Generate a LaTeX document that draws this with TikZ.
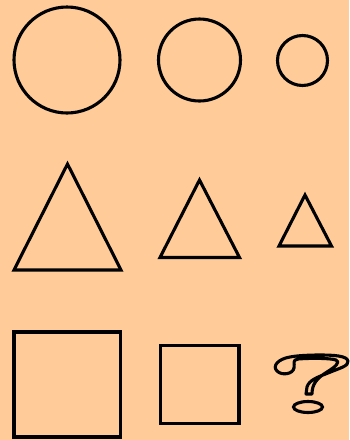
\documentclass[tikz,border=0pt]{standalone}
\usetikzlibrary{calc}

\definecolor{peach}{HTML}{FFCC99}

\tikzset{
    outline/.style={draw=black, line width=3.1pt},
}

\begin{document}
\begin{tikzpicture}[x=1pt, y=-1pt]
    % Background of the whole sheet
    \fill[peach] (0,0) rectangle (349,440);
    \useasboundingbox (0,0) rectangle (349,440);

    % Row of circles, getting smaller
    \coordinate (bigcircle) at (67,60);
    \coordinate (midcircle) at (199.5,60);
    \coordinate (smallcircle) at (302.5,60.5);
    \draw[outline] (bigcircle) circle[radius=53];
    \draw[outline] (midcircle) circle[radius=41];
    \draw[outline] (smallcircle) circle[radius=25];

    % Row of triangles
    \draw[outline] (67.5,164) -- (14,270) -- (121,270) -- cycle;
    \draw[outline] (199.5,180) -- (160,257.5) -- (239.5,257.5) -- cycle;
    \draw[outline] (305,195) -- (279,246) -- (331.5,246) -- cycle;

    % Row of squares, the last one is missing
    \draw[outline] (14,332) rectangle (120.5,437);
    \draw[outline] (160.5,345.5) rectangle (239,423.5);

    % Outlined question mark in place of the third square
    \draw[outline, line join=round]
        (306,394) -- (307,387)
        .. controls (309,380) and (318,377) .. (328,373)
        .. controls (340,368) and (349,366) .. (348,361)
        .. controls (347,356) and (335,355) .. (320,355)
        .. controls (305,355) and (295,356) .. (290,357)
        .. controls (278,359) and (272,366) .. (277,371)
        .. controls (282,376) and (293,374) .. (294,368)
        .. controls (295,363) and (292,360) .. (298,359)
        .. controls (310,358) and (330,358) .. (336,360)
        .. controls (341,362) and (335,367) .. (327,372)
        .. controls (317,378) and (312,384) .. (312,394)
        -- cycle;
    \coordinate (qdot) at (308,407);
    \draw[outline] (qdot) ellipse[x radius=14.5, y radius=5.5];
\end{tikzpicture}
\end{document}
